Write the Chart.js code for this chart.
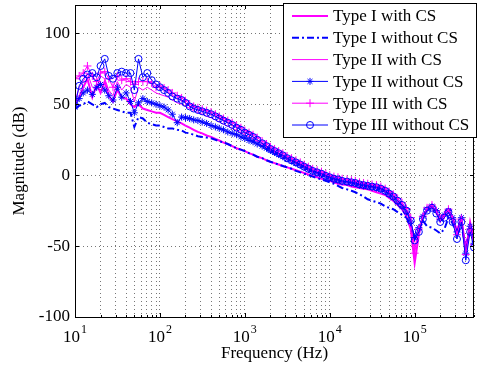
<!DOCTYPE html>
<html>
<head>
<meta charset="utf-8">
<script src="https://cdn.jsdelivr.net/npm/chart.js@4.4.1/dist/chart.umd.min.js"></script>
<style>
  html, body { margin: 0; padding: 0; background: #fff; }
  #wrap { width: 479px; height: 369px; }
</style>
</head>
<body>
<div id="wrap"><canvas id="bode" width="479" height="369"></canvas></div>
<script>
// frequency points (Hz)
const freqHz = [
  10, 11.2, 12.5, 14, 16, 18, 20, 22.4, 25, 28, 31.5, 35.5, 40, 45, 50, 56, 63, 71, 80, 90,
  100, 112, 125, 140, 160, 180, 200, 224, 250, 280, 315, 355, 400, 450, 500, 560, 630, 710, 800, 900,
  1000, 1120, 1250, 1400, 1600, 1800, 2000, 2240, 2500, 2800, 3150, 3550, 4000, 4500, 5000, 5600, 6300, 7100, 8000, 9000,
  10000, 11200, 12500, 14000, 16000, 18000, 20000, 22400, 25000, 28000, 31500, 35500, 40000, 45000, 50000, 56000, 63000, 71000, 80000, 90000,
  100000, 112000, 125000, 140000, 160000, 180000, 200000, 224000, 250000, 280000, 315000, 355000, 400000, 450000, 500000
];

// magnitudes (dB)
const typeIWithCS = [
  50, 55, 62, 68, 55, 64, 58, 66, 56, 52, 60, 55, 54, 50, 48, 50, 47, 46, 45, 44,
  44, 42.5, 41, 39.5, 38, 36.5, 35, 33.5, 32, 30.5, 29.5, 28, 27, 25.5, 24.5, 23, 22, 20.5, 19, 18,
  17, 15.5, 14.5, 13, 12, 10.5, 9.5, 8.5, 7.5, 6.5, 5.5, 4.5, 3.5, 2.5, 1.5, 0.5, -0.5, -1.5, -2.5, -3.5,
  -4, -5, -6, -6.5, -7, -8, -8.5, -9, -9.5, -10, -11, -12, -13, -14, -16, -18, -21, -24, -29, -38,
  -62, -42, -30, -24, -22, -26, -32, -28, -24, -30, -40, -30, -55, -33, -45
];
const typeIWithoutCS = [
  47, 49, 50, 52, 50, 48, 50, 51, 48, 47, 46, 45, 44, 44, 34, 41, 40, 37, 36, 35,
  35, 34, 33, 33, 32, 31.5, 30, 29.5, 28.5, 27.5, 27, 26.5, 26, 25, 24, 23, 22, 20.5, 19, 18,
  17, 15.5, 14.5, 13, 12, 10.5, 9.5, 8.5, 7.5, 6.5, 5.5, 4.5, 3, 2, 1, 0, -1, -2, -3, -4,
  -5, -6, -7.5, -9, -10, -11, -12, -13.5, -15, -17, -18, -19, -20, -22, -23, -24, -26, -28, -30, -35,
  -45, -40, -32, -36, -37, -39, -41, -38, -30, -34, -42, -36, -50, -38, -46
];
const typeIIWithCS = [
  52, 62, 66, 72, 62, 60, 70, 68, 60, 56, 66, 60, 64, 62, 52, 62, 60, 62, 60, 58,
  57, 56, 55, 53, 51, 50, 48.5, 47, 45.5, 44, 43, 41.5, 40.5, 39, 37.5, 36, 34.5, 33, 31.5, 30,
  28.5, 27, 25.5, 24, 22, 20, 18.5, 17, 15.5, 14, 12.5, 11, 9.5, 8, 6.5, 5, 4, 3, 2, 0.5,
  -0.5, -1.5, -2, -3, -3.5, -4, -4.5, -5.5, -6, -6.5, -7, -8, -9, -10.5, -12, -14, -17, -20, -24, -30,
  -52, -38, -28, -23, -21, -26, -31, -27, -24, -29, -38, -29, -50, -34, -46
];
const typeIIWithoutCS = [
  48, 54, 58, 60, 57, 62, 64, 60, 56, 53, 62, 55, 58, 52, 44, 51, 54, 52, 51, 50,
  49, 48, 46, 43, 37, 41, 40.5, 40, 39, 38.5, 37.5, 36.5, 35, 34, 33, 32, 30.5, 29.5, 28.5, 27,
  26, 24.5, 23.5, 22, 20.5, 19, 17.5, 16, 14.5, 13, 11.5, 10, 8.5, 7, 5.5, 4, 2.5, 1.5, 0.5, -1,
  -2, -3, -3.5, -4.5, -5, -5.5, -6, -7, -7.5, -8, -8.5, -9, -10, -11.5, -13.5, -16, -19, -22, -26, -33,
  -44, -37, -29, -24, -22, -25, -31, -28, -25, -30, -40, -30, -55, -36, -48
];
const typeIIIWithCS = [
  68, 70, 72, 77, 70, 66, 72, 73, 68, 62, 70, 67, 68, 66, 64, 66, 66, 66, 65, 62,
  63, 61.5, 60, 58, 56, 54.5, 52.5, 50, 48.5, 47.5, 46.5, 45.5, 44.5, 43, 41.5, 40, 38.5, 37, 35, 33.5,
  31.5, 30, 28.5, 26.5, 24, 22, 20, 18.5, 17, 15.5, 13.5, 12, 10.5, 9, 7.5, 6, 4.5, 3.5, 2.5, 1,
  0, -1, -1.5, -2.5, -3, -3.5, -4, -5, -5.5, -6, -6.5, -7, -8, -9.5, -11.5, -13.5, -16.5, -19.5, -23.5, -30,
  -55, -38, -29, -23, -21, -25, -31, -28, -24, -31, -42, -31, -56, -38, -49
];
const typeIIIWithoutCS = [
  49, 63, 68, 71, 72, 69, 77, 82, 70, 68, 72, 73, 72, 72, 60, 82, 69, 72, 67, 64,
  62, 60, 58, 55.5, 54, 53, 51, 48.5, 47, 46, 45, 44, 43, 41.5, 40, 38.5, 37, 35.5, 33.5, 32,
  30, 28.5, 27, 25, 22.5, 20.5, 18.5, 17, 15.5, 14, 12, 10.5, 9, 7.5, 6, 4.5, 3, 2, 1, -0.5,
  -1.5, -2.5, -3, -4, -4.5, -5, -5.5, -6.5, -7, -7.5, -8, -8.5, -9.5, -11, -13, -15, -18, -21, -25, -32,
  -46, -40, -31, -25, -23, -27, -33, -30, -26, -33, -45, -33, -60, -40, -51
];

const seriesNames = [
  "Type I with CS", "Type I without CS", "Type II with CS",
  "Type II without CS", "Type III with CS", "Type III without CS"
];
const seriesValues = [typeIWithCS, typeIWithoutCS, typeIIWithCS, typeIIWithoutCS, typeIIIWithCS, typeIIIWithoutCS];
const yTicks = [-100, -50, 0, 50, 100];
const xDecades = [10, 100, 1000, 10000, 100000];

const MAG = "#ff00ff";
const BLUE = "#0000ff";
const FONT = "Liberation Serif";

const looks = [
  { color: MAG, width: 2, dash: [], point: false, r: 0 },
  { color: BLUE, width: 2, dash: [7, 3, 2, 3], point: false, r: 0 },
  { color: MAG, width: 1, dash: [], point: false, r: 0 },
  { color: BLUE, width: 1, dash: [], point: "star", r: 3.5 },
  { color: MAG, width: 1, dash: [], point: "cross", r: 4 },
  { color: BLUE, width: 1, dash: [], point: "circle", r: 3.5 },
];

// gridlines at 1..9 x each decade, like matlab
const logGrid = [];
xDecades.forEach(d => {
  for (let k = 1; k <= 9; k++) if (k * d <= 500000) logGrid.push(k * d);
});

const datasets = seriesValues.map((vals, i) => ({
  label: seriesNames[i],
  data: freqHz.map((f, j) => ({ x: f, y: vals[j] })),
  borderColor: looks[i].color,
  backgroundColor: "rgba(0,0,0,0)",
  borderWidth: looks[i].width,
  borderDash: looks[i].dash,
  pointStyle: looks[i].point || "circle",
  pointRadius: looks[i].r,
  pointBorderWidth: 1,
  pointBorderColor: looks[i].color,
  pointBackgroundColor: "rgba(0,0,0,0)",
  tension: 0,
  order: 5 - i,
}));

function drawMarker(ctx, style, r, x, y) {
  if (!style) return;
  ctx.beginPath();
  if (style === "circle") {
    ctx.arc(x, y, r, 0, Math.PI * 2);
  } else if (style === "cross") {
    ctx.moveTo(x - r, y); ctx.lineTo(x + r, y);
    ctx.moveTo(x, y - r); ctx.lineTo(x, y + r);
  } else if (style === "star") {
    ctx.moveTo(x - r, y); ctx.lineTo(x + r, y);
    ctx.moveTo(x, y - r); ctx.lineTo(x, y + r);
    const d = r * 0.707;
    ctx.moveTo(x - d, y - d); ctx.lineTo(x + d, y + d);
    ctx.moveTo(x - d, y + d); ctx.lineTo(x + d, y - d);
  }
  ctx.stroke();
}

const matlabFrame = {
  id: "matlabFrame",
  afterDraw(chart) {
    const ctx = chart.ctx;
    const a = chart.chartArea;
    const xs = chart.scales.x, ys = chart.scales.y;
    ctx.save();
    // box
    ctx.strokeStyle = "#000";
    ctx.lineWidth = 1;
    ctx.setLineDash([]);
    ctx.strokeRect(Math.round(a.left) + 0.5, Math.round(a.top) + 0.5,
      Math.round(a.right - a.left) - 1, Math.round(a.bottom - a.top));
    // inner tick marks
    ctx.beginPath();
    yTicks.forEach(v => {
      const py = Math.round(ys.getPixelForValue(v)) + 0.5;
      ctx.moveTo(a.left, py); ctx.lineTo(a.left + 4, py);
      ctx.moveTo(a.right, py); ctx.lineTo(a.right - 4, py);
    });
    logGrid.forEach(v => {
      const px = Math.round(xs.getPixelForValue(v)) + 0.5;
      const len = xDecades.includes(v) ? 4 : 2;
      ctx.moveTo(px, a.bottom); ctx.lineTo(px, a.bottom - len);
      ctx.moveTo(px, a.top); ctx.lineTo(px, a.top + len);
    });
    ctx.stroke();
    // decade labels 10^n
    ctx.fillStyle = "#000";
    xDecades.forEach((v, n) => {
      const px = xs.getPixelForValue(v);
      ctx.font = "17px " + FONT;
      ctx.textAlign = "right";
      ctx.textBaseline = "alphabetic";
      ctx.fillText("10", px + 5, 342);
      ctx.font = "12px " + FONT;
      ctx.textAlign = "left";
      ctx.fillText(String(n + 1), px + 6, 333);
    });

    // legend box
    const lx = 283.5, ly = 3.5, lw = 193, lh = 134;
    ctx.fillStyle = "#fff";
    ctx.fillRect(lx, ly, lw, lh);
    ctx.strokeStyle = "#000";
    ctx.lineWidth = 1;
    ctx.strokeRect(lx, ly, lw, lh);
    seriesNames.forEach((name, i) => {
      const y = 16 + i * 21.8;
      const lk = looks[i];
      ctx.strokeStyle = lk.color;
      ctx.lineWidth = lk.width;
      ctx.setLineDash(lk.dash);
      ctx.beginPath();
      ctx.moveTo(292, y); ctx.lineTo(328, y);
      ctx.stroke();
      ctx.setLineDash([]);
      ctx.lineWidth = 1;
      drawMarker(ctx, lk.point, lk.r, 310, y);
      ctx.fillStyle = "#000";
      ctx.font = "17px " + FONT;
      ctx.textAlign = "left";
      ctx.textBaseline = "middle";
      ctx.fillText(name, 333, y + 1);
    });
    ctx.restore();
  }
};

new Chart(document.getElementById("bode"), {
  type: "line",
  data: { datasets: datasets },
  plugins: [matlabFrame],
  options: {
    responsive: false,
    animation: false,
    devicePixelRatio: 1,
    layout: { padding: { top: 4, right: 2, left: 0, bottom: 0 } },
    plugins: { legend: { display: false }, tooltip: { enabled: false } },
    scales: {
      x: {
        type: "logarithmic",
        min: 10,
        max: 500000,
        afterBuildTicks: ax => { ax.ticks = logGrid.map(v => ({ value: v })); },
        afterFit: ax => { ax.height = 52; ax.paddingLeft = 0; ax.paddingRight = 0; },
        ticks: { display: false },
        grid: { color: "#777", lineWidth: 1, drawTicks: false },
        border: { display: false, dash: [1, 3] },
        title: {
          display: true, text: "Frequency (Hz)", color: "#000",
          font: { family: FONT, size: 17 }, padding: { top: 0, bottom: 5 }
        }
      },
      y: {
        min: -100,
        max: 120,
        afterBuildTicks: ax => { ax.ticks = yTicks.map(v => ({ value: v })); },
        afterFit: ax => { ax.width = 75; ax.paddingTop = 0; ax.paddingBottom = 0; },
        ticks: { color: "#000", font: { family: FONT, size: 17 }, padding: 5 },
        grid: { color: "#777", lineWidth: 1, drawTicks: false },
        border: { display: false, dash: [1, 3] },
        title: {
          display: true, text: "Magnitude (dB)", color: "#000",
          font: { family: FONT, size: 17 }, padding: { top: 9, bottom: 4 }
        }
      }
    }
  }
});
</script>
</body>
</html>
